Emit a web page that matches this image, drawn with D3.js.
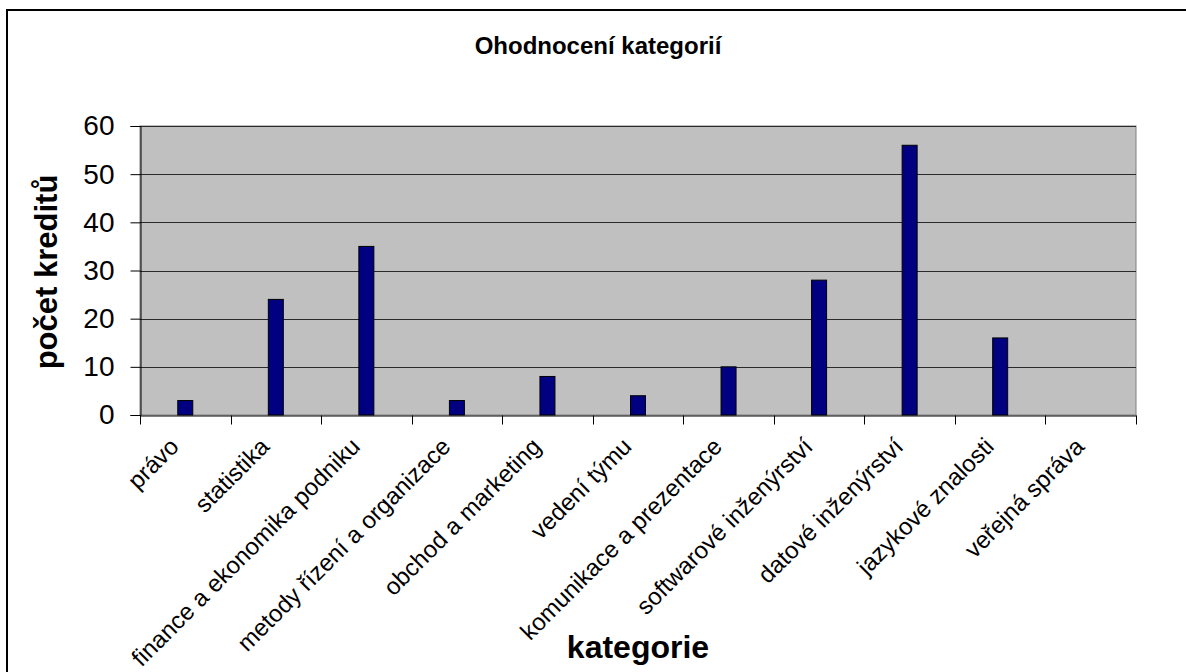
<!DOCTYPE html>
<html><head><meta charset="utf-8">
<script src="https://cdn.jsdelivr.net/npm/d3@7"></script>
<style>body{margin:0;background:#fff;}svg{display:block;font-family:"Liberation Sans",Arial,sans-serif;}</style>
</head><body>
<svg id="c" width="1186" height="672"></svg>
<script>
const categories = ["právo","statistika","finance a ekonomika podniku","metody řízení a organizace","obchod a marketing","vedení týmu","komunikace a prezentace","softwarové inženýrství","datové inženýrství","jazykové znalosti","veřejná správa"];
const credits = [3,24,35,3,8,4,10,28,56,16,0];
const yTicks = [0,10,20,30,40,50,60];
const title = "Ohodnocení kategorií";
const xTitle = "kategorie";
const yTitle = "počet kreditů";

const svg = d3.select("#c");
const L = 140, R = 1136, T = 126, B = 415;
svg.append("rect").attr("x",7).attr("y",10).attr("width",1200).attr("height",700)
  .attr("fill","#fff").attr("stroke","#000").attr("stroke-width",2);

const x = d3.scaleBand().domain(categories).range([L,R]);
const y = d3.scaleLinear().domain([0,60]).range([B,T]);

svg.append("rect").attr("x",L).attr("y",T).attr("width",R-L).attr("height",B-T)
  .attr("fill","#c0c0c0").attr("stroke","#808080").attr("stroke-width",1);

svg.append("g").selectAll("line").data(yTicks.filter(d=>d>0)).join("line")
  .attr("x1",L).attr("x2",R).attr("y1",d=>Math.round(y(d))+0.5).attr("y2",d=>Math.round(y(d))+0.5)
  .attr("stroke","#2a2a2a").attr("stroke-width",1);

const bw = 15;
svg.append("g").selectAll("rect").data(credits).join("rect")
  .attr("x",(d,i)=>x(categories[i])+x.bandwidth()/2-bw/2)
  .attr("y",d=>y(d)).attr("width",bw).attr("height",d=>B-y(d))
  .attr("fill","#000080").attr("stroke","#000").attr("stroke-width",1)
  .attr("display",d=>d>0?null:"none");

// y axis
const ya = svg.append("g").attr("transform",`translate(${L+0.5},0)`)
  .call(d3.axisLeft(y).tickValues(yTicks).tickSize(10).tickPadding(16));
ya.select(".domain").attr("stroke","#000");
ya.selectAll(".tick line").attr("stroke","#000");
ya.selectAll("text").attr("font-size",28).attr("fill","#000").attr("font-family","Liberation Sans, Arial, sans-serif");

// x axis
const xa = svg.append("g").attr("transform",`translate(0,${B+0.5})`)
  .call(d3.axisBottom(x).tickSize(0).tickFormat(""));
xa.select(".domain").attr("stroke","#000");
const edges = categories.map(c=>x(c)).concat([R]);
xa.selectAll("line.edge").data(edges).join("line").attr("class","edge")
  .attr("x1",d=>Math.round(d)+0.5).attr("x2",d=>Math.round(d)+0.5).attr("y1",0).attr("y2",9)
  .attr("stroke","#000");

svg.append("g").selectAll("text").data(categories).join("text")
  .attr("transform",d=>`translate(${x(d)+x.bandwidth()/2-5},${448}) rotate(-45)`)
  .attr("text-anchor","end").attr("font-size",24).attr("fill","#000").text(d=>d);

svg.append("text").attr("x",598).attr("y",54).attr("text-anchor","middle")
  .attr("font-size",24).attr("font-weight","bold").text(title);
svg.append("text").attr("x",638).attr("y",658).attr("text-anchor","middle")
  .attr("font-size",32).attr("font-weight","bold").text(xTitle);
svg.append("text").attr("transform",`translate(57,272) rotate(-90)`).attr("text-anchor","middle")
  .attr("font-size",31).attr("font-weight","bold").text(yTitle);
</script>
</body></html>
